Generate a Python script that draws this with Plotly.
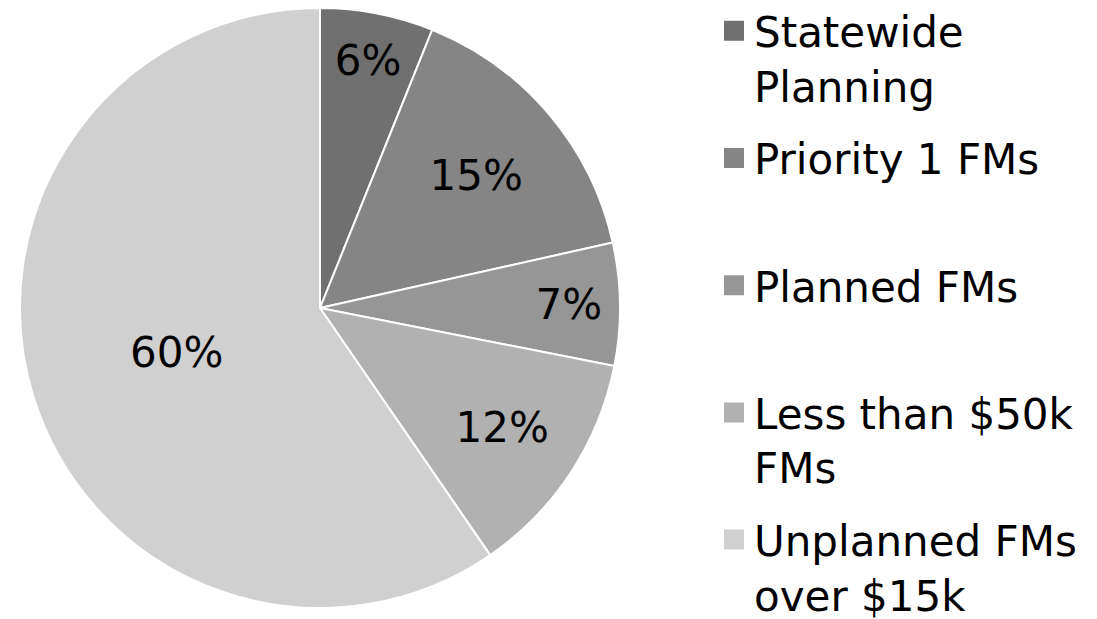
import plotly.graph_objects as go

categories = ["Statewide Planning", "Priority 1 FMs", "Planned FMs",
              "Less than $50k FMs", "Unplanned FMs over $15k"]
legend_labels = ["Statewide<br>Planning", "Priority 1 FMs<br> ", "Planned FMs<br> ",
                 "Less than $50k<br>FMs", "Unplanned FMs<br>over $15k"]
values = [6.1, 15.4, 6.6, 12.3, 59.6]
colors = ["#707070", "#858585", "#969696", "#b1b1b1", "#d0d0d0"]

W, H = 1097, 619
OFF = 8  # page body margin
fig = go.Figure()
fig.add_trace(go.Pie(
    labels=categories,
    values=values,
    sort=False,
    direction="clockwise",
    rotation=0,
    marker=dict(colors=colors, line=dict(color="white", width=2)),
    texttemplate="%{percent:.0%}",
    textposition="inside",
    insidetextorientation="horizontal",
    textfont=dict(family="DejaVu Sans", size=42, color="black"),
    domain=dict(x=[(20 - OFF) / W, (620 - OFF) / W],
                y=[(H - 608 + OFF) / H, min(1.0, (H - 8 + OFF) / H)]),
    hoverinfo="label+percent",
    showlegend=False,
))
for lab, col in zip(legend_labels, colors):
    fig.add_trace(go.Scatter(
        x=[None], y=[None], mode="markers", name=lab, legendgroup=lab,
        marker=dict(symbol="square", size=16, color=col,
                    line=dict(color=col, width=4)),
        showlegend=True, hoverinfo="skip",
    ))
fig.update_layout(
    width=W, height=H,
    margin=dict(l=0, r=0, t=0, b=0, autoexpand=False),
    paper_bgcolor="white",
    plot_bgcolor="white",
    xaxis=dict(visible=False),
    yaxis=dict(visible=False),
    legend=dict(
        x=706 / W, y=1.0 + 11 / H, xanchor="left", yanchor="top",
        font=dict(family="DejaVu Sans", size=42, color="black"),
        valign="top",
        itemwidth=30,
        itemsizing="trace",
        tracegroupgap=15,
        maxheight=1000,
        bgcolor="rgba(0,0,0,0)",
    ),
)
fig.write_html("out.html")
